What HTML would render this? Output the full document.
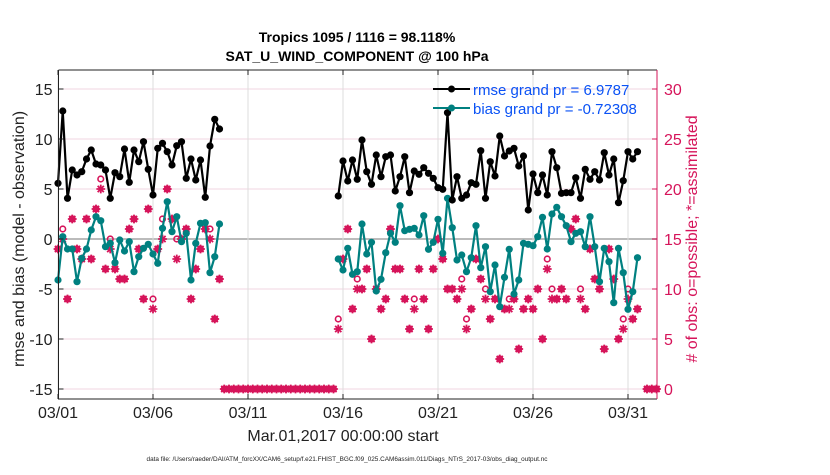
<!DOCTYPE html>
<html><head><meta charset="utf-8"><style>
body{margin:0;background:#fff;}
svg text{font-family:"Liberation Sans",sans-serif;}
</style></head><body>
<svg id="chart" width="830" height="470" viewBox="0 0 830 470" xmlns="http://www.w3.org/2000/svg">
<rect width="830" height="470" fill="#fff"/>
<text x="357" y="42" text-anchor="middle" font-size="14" font-weight="bold">Tropics 1095 / 1116 = 98.118%</text>
<text x="357" y="61" text-anchor="middle" font-size="14" font-weight="bold">SAT_U_WIND_COMPONENT @ 100 hPa</text>
<g id="grid"></g>
<g id="marks"></g>
<g id="axes"></g>
<text x="343" y="441" text-anchor="middle" font-size="16" fill="#222">Mar.01,2017 00:00:00 start</text>
<text x="347" y="461" text-anchor="middle" font-size="6.4" fill="#222">data file: /Users/raeder/DAI/ATM_forcXX/CAM6_setup/f.e21.FHIST_BGC.f09_025.CAM6assim.011/Diags_NTrS_2017-03/obs_diag_output.nc</text>
<text transform="translate(24,239) rotate(-90)" text-anchor="middle" font-size="16" fill="#222">rmse and bias (model - observation)</text>
<text transform="translate(697,239) rotate(-90)" text-anchor="middle" font-size="16" fill="#d6145a"># of obs: o=possible; *=assimilated</text>
<g>
<line x1="433" y1="89" x2="470" y2="89" stroke="#000" stroke-width="2"/>
<circle cx="451.5" cy="89" r="3.5" fill="#000"/>
<text x="473" y="95" font-size="15" fill="#0a52f5">rmse grand pr = 6.9787</text>
<line x1="433" y1="108" x2="470" y2="108" stroke="#008080" stroke-width="2"/>
<circle cx="451.5" cy="108" r="3.5" fill="#008080"/>
<text x="473" y="114" font-size="15" fill="#0a52f5">bias grand pr = -0.72308</text>
</g>
</svg>
<script>
// data: indices are 6-hourly steps from 03/01 00Z
const seg1Start = 0;
const rmse1 = [5.57,12.8,4.07,6.9,6.4,6.73,8.0,8.9,7.5,7.4,6.9,4.07,6.63,6.23,9.0,5.67,8.9,7.73,9.73,6.97,4.4,9.07,9.57,8.73,7.4,9.33,9.73,6.07,8.0,5.9,7.9,4.17,9.3,11.97,11.0];
const bias1 = [-4.1,0.23,-1.0,-1.0,-4.27,-1.93,-1.0,0.9,2.23,1.83,-0.77,-0.43,-2.37,-0.1,-1.2,-0.27,-3.27,-1.77,-0.93,-0.53,-1.5,-2.43,1.07,3.73,0.73,2.23,-0.27,0.57,-4.1,-0.43,1.57,1.63,-3.37,-1.77,1.5];
const poss1 = [14,16,9,17,14,13,17,13,18,21,12,15,12,11,11,16,17,14,9,18,9,14,17,20,17,15,15,16,9,12,14,16,16,7,11];
const assim1 = [14,15,9,17,14,13,17,13,18,20,12,14,12,11,11,16,17,14,9,18,8,14,15,20,17,13,15,16,9,12,14,16,15,7,11];
const seg2Start = 59;
const rmse2 = [4.3,7.8,5.8,7.9,5.97,9.9,6.73,5.47,8.4,6.23,8.23,8.4,4.8,6.23,8.23,4.63,6.8,6.47,7.13,6.57,6.07,5.13,4.97,12.63,3.9,6.23,4.07,4.4,5.63,5.47,8.83,4.07,7.73,
 6.3,10.3,8.3,8.8,9.07,7.3,8.3,2.9,6.5,4.63,6.4,4.4,8.73,7.13,4.57,4.63,4.63,6.13,4.07,6.97,5.97,6.73,5.9,8.63,6.4,8.0,3.63,5.83,8.73,8.0,8.73];
const bias2 = [-2.0,-3.1,-0.93,-3.53,-3.27,1.5,-1.5,-0.33,-5.2,-4.03,-1.37,0.57,-0.33,3.33,0.83,0.97,1.07,0.4,2.33,-1.03,-0.33,1.97,-1.43,4.07,1.13,-2.1,-1.6,-3.27,-1.87,1.33,-2.87,-0.77,-5.27,
 -2.6,-6.77,-3.83,-1.03,-5.5,-4.1,-0.43,-0.53,-0.67,0.23,2.17,-1.0,2.5,3.17,2.23,1.33,-0.27,0.57,0.73,-0.77,2.23,-0.77,-4.27,-0.93,-2.27,-6.37,-0.93,-3.37,-7.03,-5.27,-1.87];
const poss2 = [7,13,16,8,11,10,12,5,10,8,9,16,12,12,9,6,9,12,9,6,12,15,13,10,10,9,11,7,8,13,11,10,7,
 9,3,8,9,9,4,8,9,8,10,5,13,10,9,10,9,16,17,10,8,14,11,10,4,14,11,5,7,10,7,8];
const assim2 = [6,13,16,8,10,10,12,5,10,8,9,16,12,12,9,6,8,12,9,6,12,15,13,10,10,9,10,6,8,13,11,9,7,
 9,3,8,8,9,4,8,9,8,10,5,12,9,9,10,9,16,17,9,8,14,11,10,4,14,11,5,6,9,7,8];
const zeroIdx = [35,36,37,38,39,40,41,42,43,44,45,46,47,48,49,50,51,52,53,54,55,56,57,58,124,125,126];
const xTickLabels = ['03/01','03/06','03/11','03/16','03/21','03/26','03/31'];
const yTicks = [-15,-10,-5,0,5,10,15];
const y2Ticks = [0,5,10,15,20,25,30];

const L=58.5,R=657,T=70,B=399;
const xOf = i => 58 + i*4.75;           // 6-hourly step
const yOf = v => 239 - v*10;            // left axis
const y2Of = c => 389 - c*10;           // right axis
const NS='http://www.w3.org/2000/svg';
function mk(tag, attrs, parent){const e=document.createElementNS(NS,tag);for(const k in attrs)e.setAttribute(k,attrs[k]);parent.appendChild(e);return e;}
const grid=document.getElementById('grid'), marks=document.getElementById('marks'), axes=document.getElementById('axes');

yTicks.forEach(v=>{
  const g=mk('line',{x1:L,x2:R,y1:yOf(v),y2:yOf(v),stroke:v===0?'#bbb':'#f0d6e0','stroke-width':v===0?2:1},grid);
  
  
});
xTickLabels.forEach((t,k)=>{
  const x=xOf(k*20);
  const g=mk('line',{x1:x,x2:x,y1:T,y2:B,stroke:'#ddd','stroke-width':1},grid);
  
  
});

function drawLine(vals,start,color,name){
  const pts=vals.map((v,j)=>xOf(start+j).toFixed(2)+','+yOf(v).toFixed(2)).join(' ');
  const pl=mk('polyline',{points:pts,fill:'none',stroke:color,'stroke-width':2.2,'stroke-linejoin':'round'},marks);
  
  
  vals.forEach((v,j)=>{
    const c=mk('circle',{cx:xOf(start+j),cy:yOf(v),r:3.6,fill:color},marks);
    
    
  });
}
const MC='#d6145a';
function drawPoss(i,c){
  const e=mk('circle',{cx:xOf(i),cy:y2Of(c),r:2.8,fill:'none',stroke:MC,'stroke-width':1.6},marks);
  
  
}
function drawAssim(i,c){
  const x=xOf(i),y=y2Of(c),s=4.4,d=3.1;
  const p=mk('path',{d:`M${x-s},${y}H${x+s}M${x},${y-s}V${y+s}M${x-d},${y-d}L${x+d},${y+d}M${x-d},${y+d}L${x+d},${y-d}`,stroke:MC,'stroke-width':1.8,fill:'none'},marks);
  
  
}
poss1.forEach((c,j)=>drawPoss(seg1Start+j,c));
assim1.forEach((c,j)=>drawAssim(seg1Start+j,c));
poss2.forEach((c,j)=>drawPoss(seg2Start+j,c));
assim2.forEach((c,j)=>drawAssim(seg2Start+j,c));
zeroIdx.forEach(i=>{drawPoss(i,0);drawAssim(i,0);});

drawLine(bias1,seg1Start,'#008080','bias');
drawLine(bias2,seg2Start,'#008080','bias');
drawLine(rmse1,seg1Start,'#000','rmse');
drawLine(rmse2,seg2Start,'#000','rmse');

// axes
let a=mk('path',{d:`M${L},${T}V${B}H${R}`,stroke:'#222','stroke-width':1,fill:'none'},axes);


a=mk('line',{x1:L,x2:R,y1:T,y2:T,stroke:'#222','stroke-width':1},axes);


a=mk('line',{x1:R,x2:R,y1:T,y2:B,stroke:MC,'stroke-width':1},axes);


yTicks.forEach(v=>{
  mk('line',{x1:L,x2:L+5,y1:yOf(v),y2:yOf(v),stroke:'#222'},axes);
  const t=mk('text',{x:L-6,y:yOf(v)+6,'text-anchor':'end','font-size':16,fill:'#222'},axes);
  t.textContent=v;
  
  
});
y2Ticks.forEach(c=>{
  mk('line',{x1:R-5,x2:R,y1:y2Of(c),y2:y2Of(c),stroke:MC},axes);
  const t=mk('text',{x:R+7,y:y2Of(c)+6,'font-size':16,fill:MC},axes);
  t.textContent=c;
  
  
});
xTickLabels.forEach((lab,k)=>{
  const x=xOf(k*20);
  mk('line',{x1:x,x2:x,y1:B,y2:B-5,stroke:'#222'},axes);
  mk('line',{x1:x,x2:x,y1:T,y2:T+5,stroke:'#222'},axes);
  const t=mk('text',{x:x,y:B+19,'text-anchor':'middle','font-size':16,fill:'#222'},axes);
  t.textContent=lab;
  
  
});
</script>
</body></html>
